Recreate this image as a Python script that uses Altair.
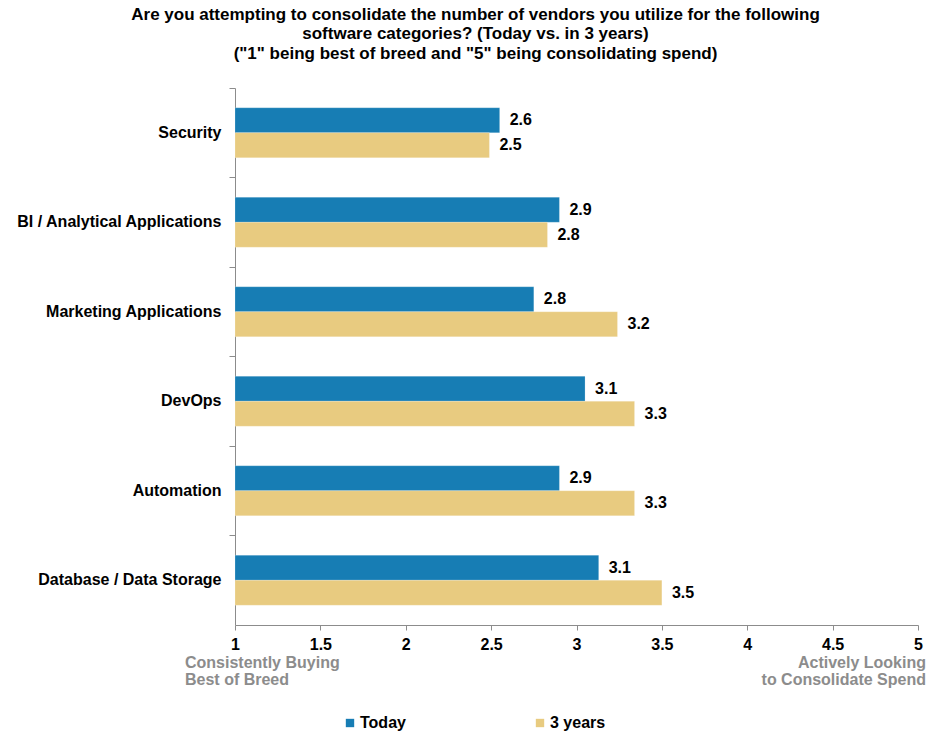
import altair as alt
import pandas as pd

categories = ["Security", "BI / Analytical Applications", "Marketing Applications",
              "DevOps", "Automation", "Database / Data Storage"]
series = ["Today", "3 years"]
today = [2.55, 2.90, 2.75, 3.05, 2.90, 3.13]
three_years = [2.49, 2.83, 3.24, 3.34, 3.34, 3.50]
today_labels = ["2.6", "2.9", "2.8", "3.1", "2.9", "3.1"]
three_labels = ["2.5", "2.8", "3.2", "3.3", "3.3", "3.5"]
x_ticks = [1, 1.5, 2, 2.5, 3, 3.5, 4, 4.5, 5]
colors = ["#177db4", "#e8cb80"]
title_lines = [
    "Are you attempting to consolidate the number of vendors you utilize for the following",
    "software categories? (Today vs. in 3 years)",
    "(\"1\" being best of breed and \"5\" being consolidating spend)",
]
left_note = "Consistently Buying\nBest of Breed"
right_note = "Actively Looking\nto Consolidate Spend"

rows = []
for c, v, l in zip(categories, today, today_labels):
    rows.append({"category": c, "series": "Today", "value": v, "label": l})
for c, v, l in zip(categories, three_years, three_labels):
    rows.append({"category": c, "series": "3 years", "value": v, "label": l})
df = pd.DataFrame(rows)

W, H = 683, 537
FONT = "Liberation Sans"

y_enc = alt.Y("category:N", sort=categories, title=None,
              scale=alt.Scale(paddingInner=0, paddingOuter=0),
              axis=alt.Axis(bandPosition=0, domainColor="#8c8c8c", tickColor="#8c8c8c",
                            tickSize=6, labelPadding=8, labelFont=FONT, labelFontSize=16,
                            labelFontWeight="bold", labelColor="#000000", labelLimit=300))
yoff = alt.YOffset("series:N", sort=series,
                   scale=alt.Scale(paddingOuter=0.79, paddingInner=0))
x_scale = alt.Scale(domain=[1, 5], zero=False, nice=False)

base = alt.Chart(df)

bars = base.mark_bar(stroke="#ffffff", strokeWidth=0.5, strokeOpacity=0.4).encode(
    x=alt.X("value:Q", scale=x_scale, title=None,
            axis=alt.Axis(values=x_ticks, format="~g", grid=False, domainColor="#8c8c8c",
                          tickColor="#8c8c8c", tickSize=5, labelPadding=6, labelFont=FONT,
                          labelFontSize=16, labelFontWeight="bold", labelColor="#000000",
                          labelFlush=False)),
    x2=alt.datum(1),
    y=y_enc,
    yOffset=yoff,
    color=alt.Color("series:N", sort=series,
                    scale=alt.Scale(domain=series, range=colors),
                    legend=alt.Legend(title=None, orient="none", direction="horizontal",
                                      legendX=107, legendY=627, symbolType="square",
                                      symbolSize=70, symbolStrokeWidth=0,
                                      labelFont=FONT, labelFontSize=16,
                                      labelFontWeight="bold", labelColor="#000000",
                                      labelOffset=2, columnPadding=126)),
)

labels = base.mark_text(align="left", baseline="middle", dx=10, font=FONT, fontSize=16,
                        fontWeight="bold", color="#000000").encode(
    x=alt.X("value:Q", scale=x_scale),
    y=alt.Y("category:N", sort=categories),
    yOffset=alt.YOffset("series:N", sort=series),
    text="label:N",
)

notes_df = pd.DataFrame({"x": [1, 5], "text": [left_note, right_note]})
left_text = alt.Chart(notes_df).transform_filter(alt.datum.x == 1).mark_text(
    align="left", baseline="alphabetic", dx=-50, lineBreak="\n", lineHeight=17,
    font=FONT, fontSize=16, fontWeight="bold", color="#8c8c8c").encode(
    x=alt.X("x:Q", scale=x_scale), y=alt.value(H + 43), text="text:N")
right_text = alt.Chart(notes_df).transform_filter(alt.datum.x == 5).mark_text(
    align="right", baseline="alphabetic", dx=8, lineBreak="\n", lineHeight=17,
    font=FONT, fontSize=16, fontWeight="bold", color="#8c8c8c").encode(
    x=alt.X("x:Q", scale=x_scale), y=alt.value(H + 43), text="text:N")

chart = alt.layer(bars, labels, left_text, right_text).properties(
    width=W, height=H,
    background="#ffffff",
    autosize=alt.AutoSizeParams(type="none"),
    padding={"left": 235, "top": 88, "right": 29, "bottom": 108},
    title=alt.TitleParams(text=title_lines, anchor="middle", dx=-101, offset=25,
                          font=FONT, fontSize=17, fontWeight="bold", color="#000000",
                          lineHeight=19.5),
).configure_view(strokeWidth=0, stroke="transparent")

chart.save("out.html", embed_options={"renderer": "svg", "actions": False})
